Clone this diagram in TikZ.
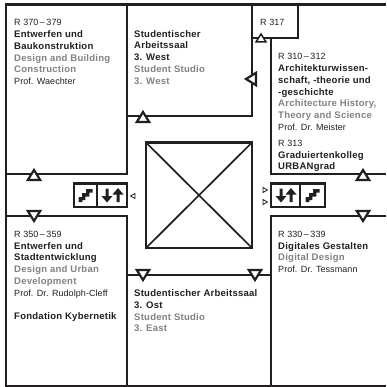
\documentclass[tikz,border=0pt]{standalone}
\usepackage{fontspec}
\setmainfont{Liberation Sans}[LetterSpace=0.8,BoldFeatures={Scale=1.06,LetterSpace=2.5}]
\definecolor{wall}{HTML}{231F20}
\definecolor{engl}{HTML}{808285}
\newcommand{\bt}[1]{\textbf{#1}}
\newcommand{\gt}[1]{\textcolor{engl}{\textbf{#1}}}
\tikzset{
  wallline/.style={draw=wall,line width=2.7pt,line cap=rect,miter limit=10},
  thinwall/.style={draw=wall,line width=2.2pt,line cap=rect},
  tri/.style={draw=wall,fill=white,line width=2.2pt,line join=miter},
  tinytri/.style={draw=wall,fill=white,line width=0.8pt},
  icon/.style={fill=wall,draw=none},
  label/.style={anchor=north west,inner sep=0pt,align=left,text=wall,
    font=\fontsize{9}{11.75}\selectfont},
  pics/triup/.style={code={\draw[tri] (-6.2,5) -- (0,-5) -- (6.2,5) -- cycle;}},
  pics/tridown/.style={code={\draw[tri] (-6.2,-5) -- (0,5) -- (6.2,-5) -- cycle;}},
  pics/trileft/.style={code={\draw[tri] (5,-6.2) -- (-5,0) -- (5,6.2) -- cycle;}},
  pics/stairs/.style={code={\fill[icon] (-7,7) -- (-7,2) -- (-3.5,2) -- (-3.5,-2) -- (0.5,-2) -- (0.5,-6) -- (7,-6) -- (7,-2.5) -- (3.8,-2.5) -- (3.8,1.5) -- (-0.2,1.5) -- (-0.2,5) -- (-3.2,5) -- (-3.2,7) -- cycle;}},
  pics/arrowup/.style={code={\fill[icon] (-1.5,7) -- (-1.5,-0.5) -- (-5.5,-0.5) -- (0,-7) -- (5.5,-0.5) -- (1.5,-0.5) -- (1.5,7) -- cycle;}},
  pics/arrowdown/.style={code={\fill[icon] (-1.5,-7) -- (-1.5,0.5) -- (-5.5,0.5) -- (0,7) -- (5.5,0.5) -- (1.5,0.5) -- (1.5,-7) -- cycle;}},
}
\begin{document}
\begin{tikzpicture}[x=1pt,y=-1pt]
\useasboundingbox[fill=white] (0,0) rectangle (386,387);
% outer walls
\draw[wallline,line cap=butt] (386,4.5) -- (6,4.5) -- (6,386) -- (386,386);
% upper rooms
\draw[wallline] (6,174) -- (127,174) -- (127,4.5);
\draw[wallline] (127,116) -- (252,116) -- (252,4.5);
\draw[wallline] (252,38) -- (298,38) -- (298,4.5);
\draw[wallline,line cap=butt] (271,38) -- (271,174) -- (386,174);
% lower rooms
\draw[wallline] (6,216) -- (127,216) -- (127,386);
\draw[wallline] (127,275) -- (271,275);
\draw[wallline,line cap=butt] (386,216) -- (271,216) -- (271,386);
% centre void
\draw[thinwall] (146,142.5) rectangle (252,248);
\draw[draw=wall,line width=1.7pt] (146,142.5) -- (252,248) (252,142.5) -- (146,248);
% stair boxes
\draw[wallline] (74,183.5) rectangle (127,207);
\draw[draw=wall,line width=1.8pt] (97,183.5) -- (97,207);
\draw[wallline] (271,183.5) rectangle (325,207);
\draw[draw=wall,line width=1.8pt] (300,183.5) -- (300,207);
\pic at (85.5,195) {stairs};
\pic at (107,195.5) {arrowdown};
\pic at (118,195) {arrowup};
\pic at (281,195.5) {arrowdown};
\pic at (291,195) {arrowup};
\pic at (312.5,195) {stairs};
% door triangles
\pic at (143,117) {triup};
\pic at (34,175) {triup};
\pic at (363,175) {triup};
\pic at (34,216) {tridown};
\pic at (363,216) {tridown};
\pic at (143,275) {tridown};
\pic at (255,275) {tridown};
\pic at (251,79) {trileft};
\draw[draw=wall,fill=white,line width=1.5pt] (256,42) -- (261,34) -- (266,42) -- cycle;
% small markers
\draw[tinytri] (135,193.5) -- (130.5,196) -- (135,198.5) -- cycle;
\draw[tinytri] (263,187.5) -- (267.5,190) -- (263,192.5) -- cycle;
\draw[tinytri] (263,199.5) -- (267.5,202) -- (263,204.5) -- cycle;
% labels
\node[label] (r370) at (14,19.5) {R 370\,–\,379\\\bt{Entwerfen und}\\\bt{Baukonstruktion}\\\gt{Design and Building}\\\gt{Construction}\\Prof. Waechter};
\node[label] (west) at (134,30) {\bt{Studentischer}\\\bt{Arbeitssaal}\\\bt{3. West}\\\gt{Student Studio}\\\gt{3. West}};
\node[label] (r317) at (260,19.5) {R 317};
\node[label] (r310) at (278,53.5) {R 310\,–\,312\\\bt{Architekturwissen-}\\\bt{schaft, -theorie und}\\\bt{-geschichte}\\\gt{Architecture History,}\\\gt{Theory and Science}\\Prof. Dr. Meister};
\node[label] (r313) at (278,140) {R 313\\\bt{Graduiertenkolleg}\\\bt{URBANgrad}};
\node[label] (r350) at (14,231) {R 350\,–\,359\\\bt{Entwerfen und}\\\bt{Stadtentwicklung}\\\gt{Design and Urban}\\\gt{Development}\\Prof. Dr. Rudolph-Cleff\\[11.75pt]\bt{Fondation Kybernetik}};
\node[label] (ost) at (134,289.5) {\bt{Studentischer Arbeitssaal}\\\bt{3. Ost}\\\gt{Student Studio}\\\gt{3. East}};
\node[label] (r330) at (278,231) {R 330\,–\,339\\\bt{Digitales Gestalten}\\\gt{Digital Design}\\Prof. Dr. Tessmann};
\end{tikzpicture}
\end{document}
